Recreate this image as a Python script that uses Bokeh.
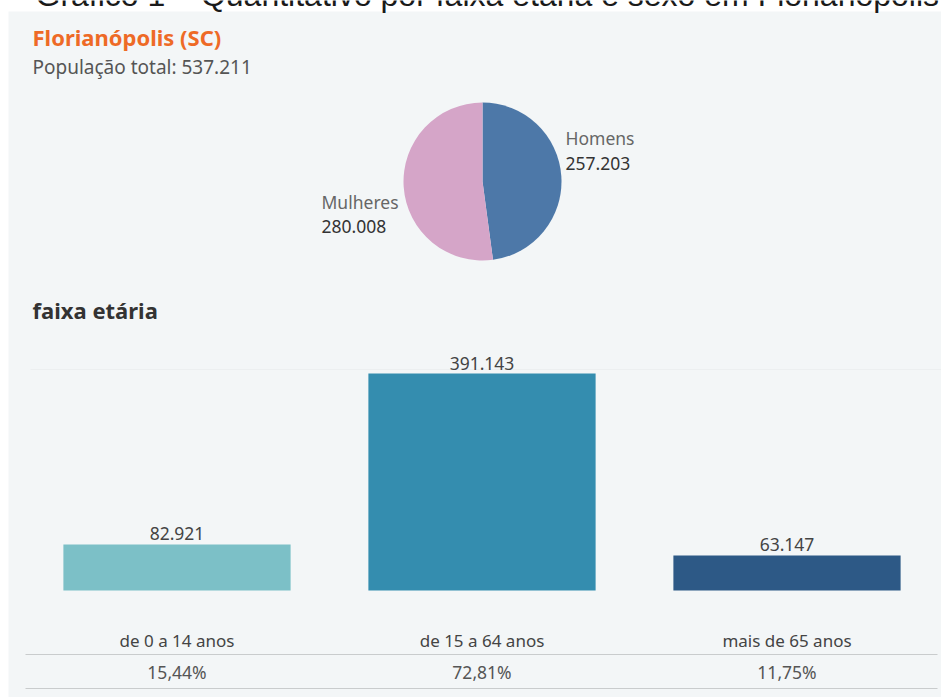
import numpy as np
from bokeh.plotting import figure
from bokeh.models import Range1d, ColumnDataSource
from bokeh.core.properties import value
from bokeh.embed import file_html
from bokeh.resources import INLINE

# ---------------- data ----------------
page_title = "Gráfico 1 – Quantitativo por faixa etária e sexo em Florianópolis"
city = "Florianópolis (SC)"
total_label = "População total: 537.211"
sexes = ["Homens", "Mulheres"]
sex_values = [257203, 280008]
sex_value_labels = ["257.203", "280.008"]
sex_colors = ["#4d78a8", "#d5a5c8"]
age_section = "faixa etária"
age_groups = ["de 0 a 14 anos", "de 15 a 64 anos", "mais de 65 anos"]
age_values = [82921, 391143, 63147]
age_value_labels = ["82.921", "391.143", "63.147"]
age_shares = ["15,44%", "72,81%", "11,75%"]
age_colors = ["#7cc0c7", "#348daf", "#2d5986"]

# ---------------- layout ----------------
W, H = 941, 697
FONT = "Noto Sans"


def Y(py):
    return H - py


# bar scale: value 0 at py=590, max value at py=373
base_py, top_py = 590, 373
k = (base_py - top_py) / max(age_values)
bar_y_start = -(H - base_py) / k
bar_y_end = bar_y_start + H / k
# category scale: centers at 176.5 + 305*i
c0, step = 176.5, 305.0
bar_x_start = -c0 / step
bar_x_end = bar_x_start + W / step

p = figure(width=W, height=H, x_range=Range1d(0, W), y_range=Range1d(0, H),
           output_backend="svg", toolbar_location=None, min_border=0,
           background_fill_color="white", border_fill_color="white",
           outline_line_color=None)
p.axis.visible = False
p.grid.visible = False
p.extra_x_ranges = {"bx": Range1d(bar_x_start, bar_x_end)}
p.extra_y_ranges = {"by": Range1d(bar_y_start, bar_y_end)}

# panel
p.quad(left=[8], right=[W], bottom=[0], top=[Y(11)], fill_color="#f3f6f7", line_color=None)

# page title (cut off at top, as in the source image)
p.text(x=[35], y=[Y(-6)], text=[page_title], text_font=value("Liberation Sans"),
       text_font_size="32px", text_color="#1a1a1a", text_baseline="middle")

# header texts
p.text(x=[32], y=[Y(36)], text=[city], text_font=value(FONT), text_font_style="bold",
       text_font_size="22px", text_color="#ee6a26", text_baseline="middle")
p.text(x=[32], y=[Y(66)], text=[total_label], text_font=value(FONT),
       text_font_size="19px", text_color="#555555", text_baseline="middle")

# pie
vals = np.array(sex_values, dtype=float)
fr = vals / vals.sum()
ends = np.pi / 2 - 2 * np.pi * np.cumsum(fr)
starts = np.concatenate([[np.pi / 2], ends[:-1]])
pie_src = ColumnDataSource(dict(start=starts, end=ends, color=sex_colors))
p.wedge(x=482, y=Y(181), radius=79, radius_units="screen", start_angle="start",
        end_angle="end", direction="clock", fill_color="color", line_color=None,
        source=pie_src)

p.text(x=[565, 565], y=[Y(137), Y(163)], text=[sexes[0], sex_value_labels[0]],
       text_font=value(FONT), text_font_size="17.5px",
       text_color=["#666666", "#333333"], text_baseline="middle")
p.text(x=[321, 321], y=[Y(201), Y(226)], text=[sexes[1], sex_value_labels[1]],
       text_font=value(FONT), text_font_size="17.5px",
       text_color=["#666666", "#333333"], text_baseline="middle")

# section title
p.text(x=[32], y=[Y(309)], text=[age_section], text_font=value(FONT), text_font_style="bold",
       text_font_size="22px", text_color="#333333", text_baseline="middle")

# faint gridline at top of bar scale
p.segment(x0=[30], x1=[W], y0=[Y(369)], y1=[Y(369)], line_color="#eceff0", line_width=1)

# bars
xi = np.arange(len(age_groups))
bsrc = ColumnDataSource(dict(x=xi, top=age_values, color=age_colors,
                             lab=age_value_labels, cat=age_groups, share=age_shares))
p.vbar(x="x", top="top", bottom=0, width=0.745, fill_color="color", line_color=None,
       source=bsrc, x_range_name="bx", y_range_name="by")
p.text(x="x", y="top", text="lab", source=bsrc, x_range_name="bx", y_range_name="by",
       text_font=value(FONT), text_font_size="17.5px", text_color="#444444",
       text_align="center", text_baseline="bottom", y_offset=-4)

# category labels and shares
p.text(x="x", y=Y(640), text="cat", source=bsrc, x_range_name="bx",
       text_font=value(FONT), text_font_size="17px", text_color="#444444",
       text_align="center", text_baseline="middle")
p.text(x="x", y=Y(671), text="share", source=bsrc, x_range_name="bx",
       text_font=value(FONT), text_font_size="17.5px", text_color="#555555",
       text_align="center", text_baseline="middle")

# separator lines
p.segment(x0=[25, 25], x1=[937, 937], y0=[Y(654), Y(688)], y1=[Y(654), Y(688)],
          line_color="#c9cccd", line_width=1.2)

open("out.html", "w").write(file_html(p, INLINE))
